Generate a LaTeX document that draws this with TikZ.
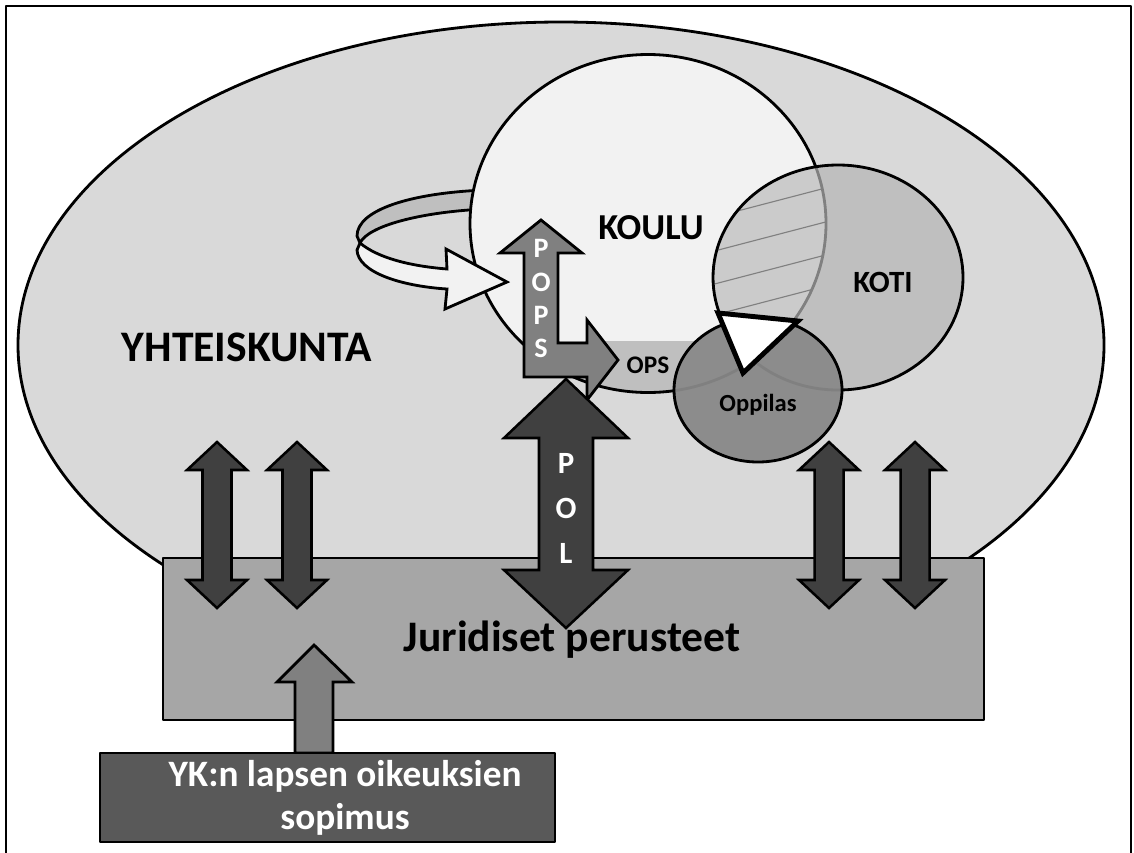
\documentclass[tikz,border=0pt]{standalone}
\usepackage{fontspec}
\setmainfont{Carlito}
\definecolor{society}{HTML}{D9D9D9}
\definecolor{legal}{HTML}{A6A6A6}
\definecolor{school}{HTML}{F2F2F2}
\definecolor{band}{HTML}{BFBFBF}
\definecolor{hatchfill}{HTML}{CBCBCB}
\definecolor{pupil}{HTML}{8C8C8C}
\definecolor{midgray}{HTML}{808080}
\definecolor{darkarrow}{HTML}{404040}
\definecolor{ykgray}{HTML}{595959}
\tikzset{
  outline/.style={draw=black, line width=2pt},
  blockarrow/.style={draw=black, line width=1.8pt, line join=miter, fill=darkarrow},
  txt/.style={font=\bfseries\fontsize{#1}{#1}\selectfont, inner sep=0pt},
  whitetxt/.style={txt=#1, text=white},
}
\begin{document}
\begin{tikzpicture}[x=0.25mm, y=-0.25mm, line join=round]
  \useasboundingbox (0,0) rectangle (1134,852);
  \clip (0,0) rectangle (1134,852);
  \draw[line width=1pt] (6,6) rectangle (1131,900);
  % society and legal basis
  \draw[outline, fill=society] (561,345) ellipse [x radius=543, y radius=323];
  \draw[outline, fill=legal] (163,558) rectangle (984,720);
  \draw[blockarrow] (217,442) -- ++(30,28) -- ++(-15.5,0) -- ++(0,110) -- ++(15.5,0) -- ++(-30,28)
    -- ++(-30,-28) -- ++(15.5,0) -- ++(0,-110) -- ++(-15.5,0) -- cycle;
  \draw[blockarrow] (297,442) -- ++(30,28) -- ++(-15.5,0) -- ++(0,110) -- ++(15.5,0) -- ++(-30,28)
    -- ++(-30,-28) -- ++(15.5,0) -- ++(0,-110) -- ++(-15.5,0) -- cycle;
  \draw[blockarrow] (829,442) -- ++(30,28) -- ++(-15.5,0) -- ++(0,110) -- ++(15.5,0) -- ++(-30,28)
    -- ++(-30,-28) -- ++(15.5,0) -- ++(0,-110) -- ++(-15.5,0) -- cycle;
  \draw[blockarrow] (915,442) -- ++(30,28) -- ++(-15.5,0) -- ++(0,110) -- ++(15.5,0) -- ++(-30,28)
    -- ++(-30,-28) -- ++(15.5,0) -- ++(0,-110) -- ++(-15.5,0) -- cycle;
  % back of the loop
  \draw[outline, fill=band] (485,190) .. controls (410,193) and (357,210) .. (357,236)
    -- (360,243) .. controls (368,226) and (420,212) .. (485,209) -- cycle;
  % school
  \fill[school] (648,223.5) ellipse [x radius=178, y radius=169];
  \begin{scope}
    \clip (648,223.5) ellipse [x radius=178, y radius=169];
    \fill[band] (460,341) rectangle (830,400);
  \end{scope}
  \draw[outline] (648,223.5) ellipse [x radius=178, y radius=169];
  % home
  \fill[band] (838,277.5) ellipse [x radius=125, y radius=112.5];
  \begin{scope}
    \clip (648,223.5) ellipse [x radius=178, y radius=169];
    \clip (838,277.5) ellipse [x radius=125, y radius=112.5];
    \fill[hatchfill] (700,150) rectangle (850,400);
    \draw[midgray, line width=0.8pt] (680,226) -- (860,179) (680,260) -- (860,213)
      (680,293) -- (860,246) (680,324) -- (860,277) (680,358) -- (860,311);
  \end{scope}
  \begin{scope}
    \clip (838,277.5) ellipse [x radius=125, y radius=112.5];
    \draw[midgray, line width=2pt] (648,223.5) ellipse [x radius=178, y radius=169];
  \end{scope}
  \draw[outline] (838,277.5) ellipse [x radius=125, y radius=112.5];
  % pupil
  \fill[pupil] (758,390) ellipse [x radius=84, y radius=72];
  \begin{scope}
    \clip (758,390) ellipse [x radius=84, y radius=72];
    \draw[midgray, line width=2pt] (648,223.5) ellipse [x radius=178, y radius=169];
    \draw[midgray, line width=2pt] (838,277.5) ellipse [x radius=125, y radius=112.5];
  \end{scope}
  \draw[outline] (758,390) ellipse [x radius=84, y radius=72];
  \draw[line width=3.5pt, line join=miter, fill=white] (718,313) -- (798,321) -- (743,373) -- cycle;
  % front of the loop
  \draw[outline, fill=school, line join=miter] (360,243) .. controls (378,258) and (410,266) .. (447,269)
    -- (446,249) -- (507,282) -- (445,309) -- (447,289) .. controls (400,286) and (358,272) .. (357,250) -- cycle;
  % POPS and POL
  \draw[outline, fill=midgray, line join=miter] (524,377) -- (524,253) -- (500,253) -- (541,220) -- (582,253)
    -- (558,253) -- (558,343) -- (587,343) -- (587,320) -- (618,360) -- (587,400) -- (587,377) -- cycle;
  \draw[blockarrow] (566,379) -- (628,438) -- (593,438) -- (593,570) -- (628,570) -- (566,628)
    -- (504,570) -- (539,570) -- (539,438) -- (504,438) -- cycle;
  % UN convention
  \draw[outline, fill=midgray, line join=miter] (314,645) -- (352,682) -- (333,682) -- (333,753)
    -- (295,753) -- (295,682) -- (277,682) -- cycle;
  \draw[outline, fill=ykgray] (100,753) rectangle (555,842);
  % texts
  \node[txt=31] (yhteiskunta) at (247,347) {YHTEISKUNTA};
  \node[txt=26] (koulu) at (651,228) {KOULU};
  \node[txt=22] (koti) at (883,282) {KOTI};
  \node[txt=18] (ops) at (648,365) {OPS};
  \node[txt=17.5] (oppilas) at (758,405) {Oppilas};
  \node[txt=31] (juridiset) at (572,640) {Juridiset perusteet};
  \node[whitetxt=26.5, align=center, font=\bfseries\fontsize{26.5}{30.5}\selectfont] (yk) at (345,798)
    {YK:n lapsen oikeuksien\\sopimus};
  \node[whitetxt=20] (pops1) at (541,248) {P};
  \node[whitetxt=20] (pops2) at (541,282) {O};
  \node[whitetxt=20] (pops3) at (541,315) {P};
  \node[whitetxt=20] (pops4) at (541,348) {S};
  \node[whitetxt=22] (pol1) at (566,463) {P};
  \node[whitetxt=22] (pol2) at (566,508) {O};
  \node[whitetxt=22] (pol3) at (566,553) {L};
\end{tikzpicture}
\end{document}
